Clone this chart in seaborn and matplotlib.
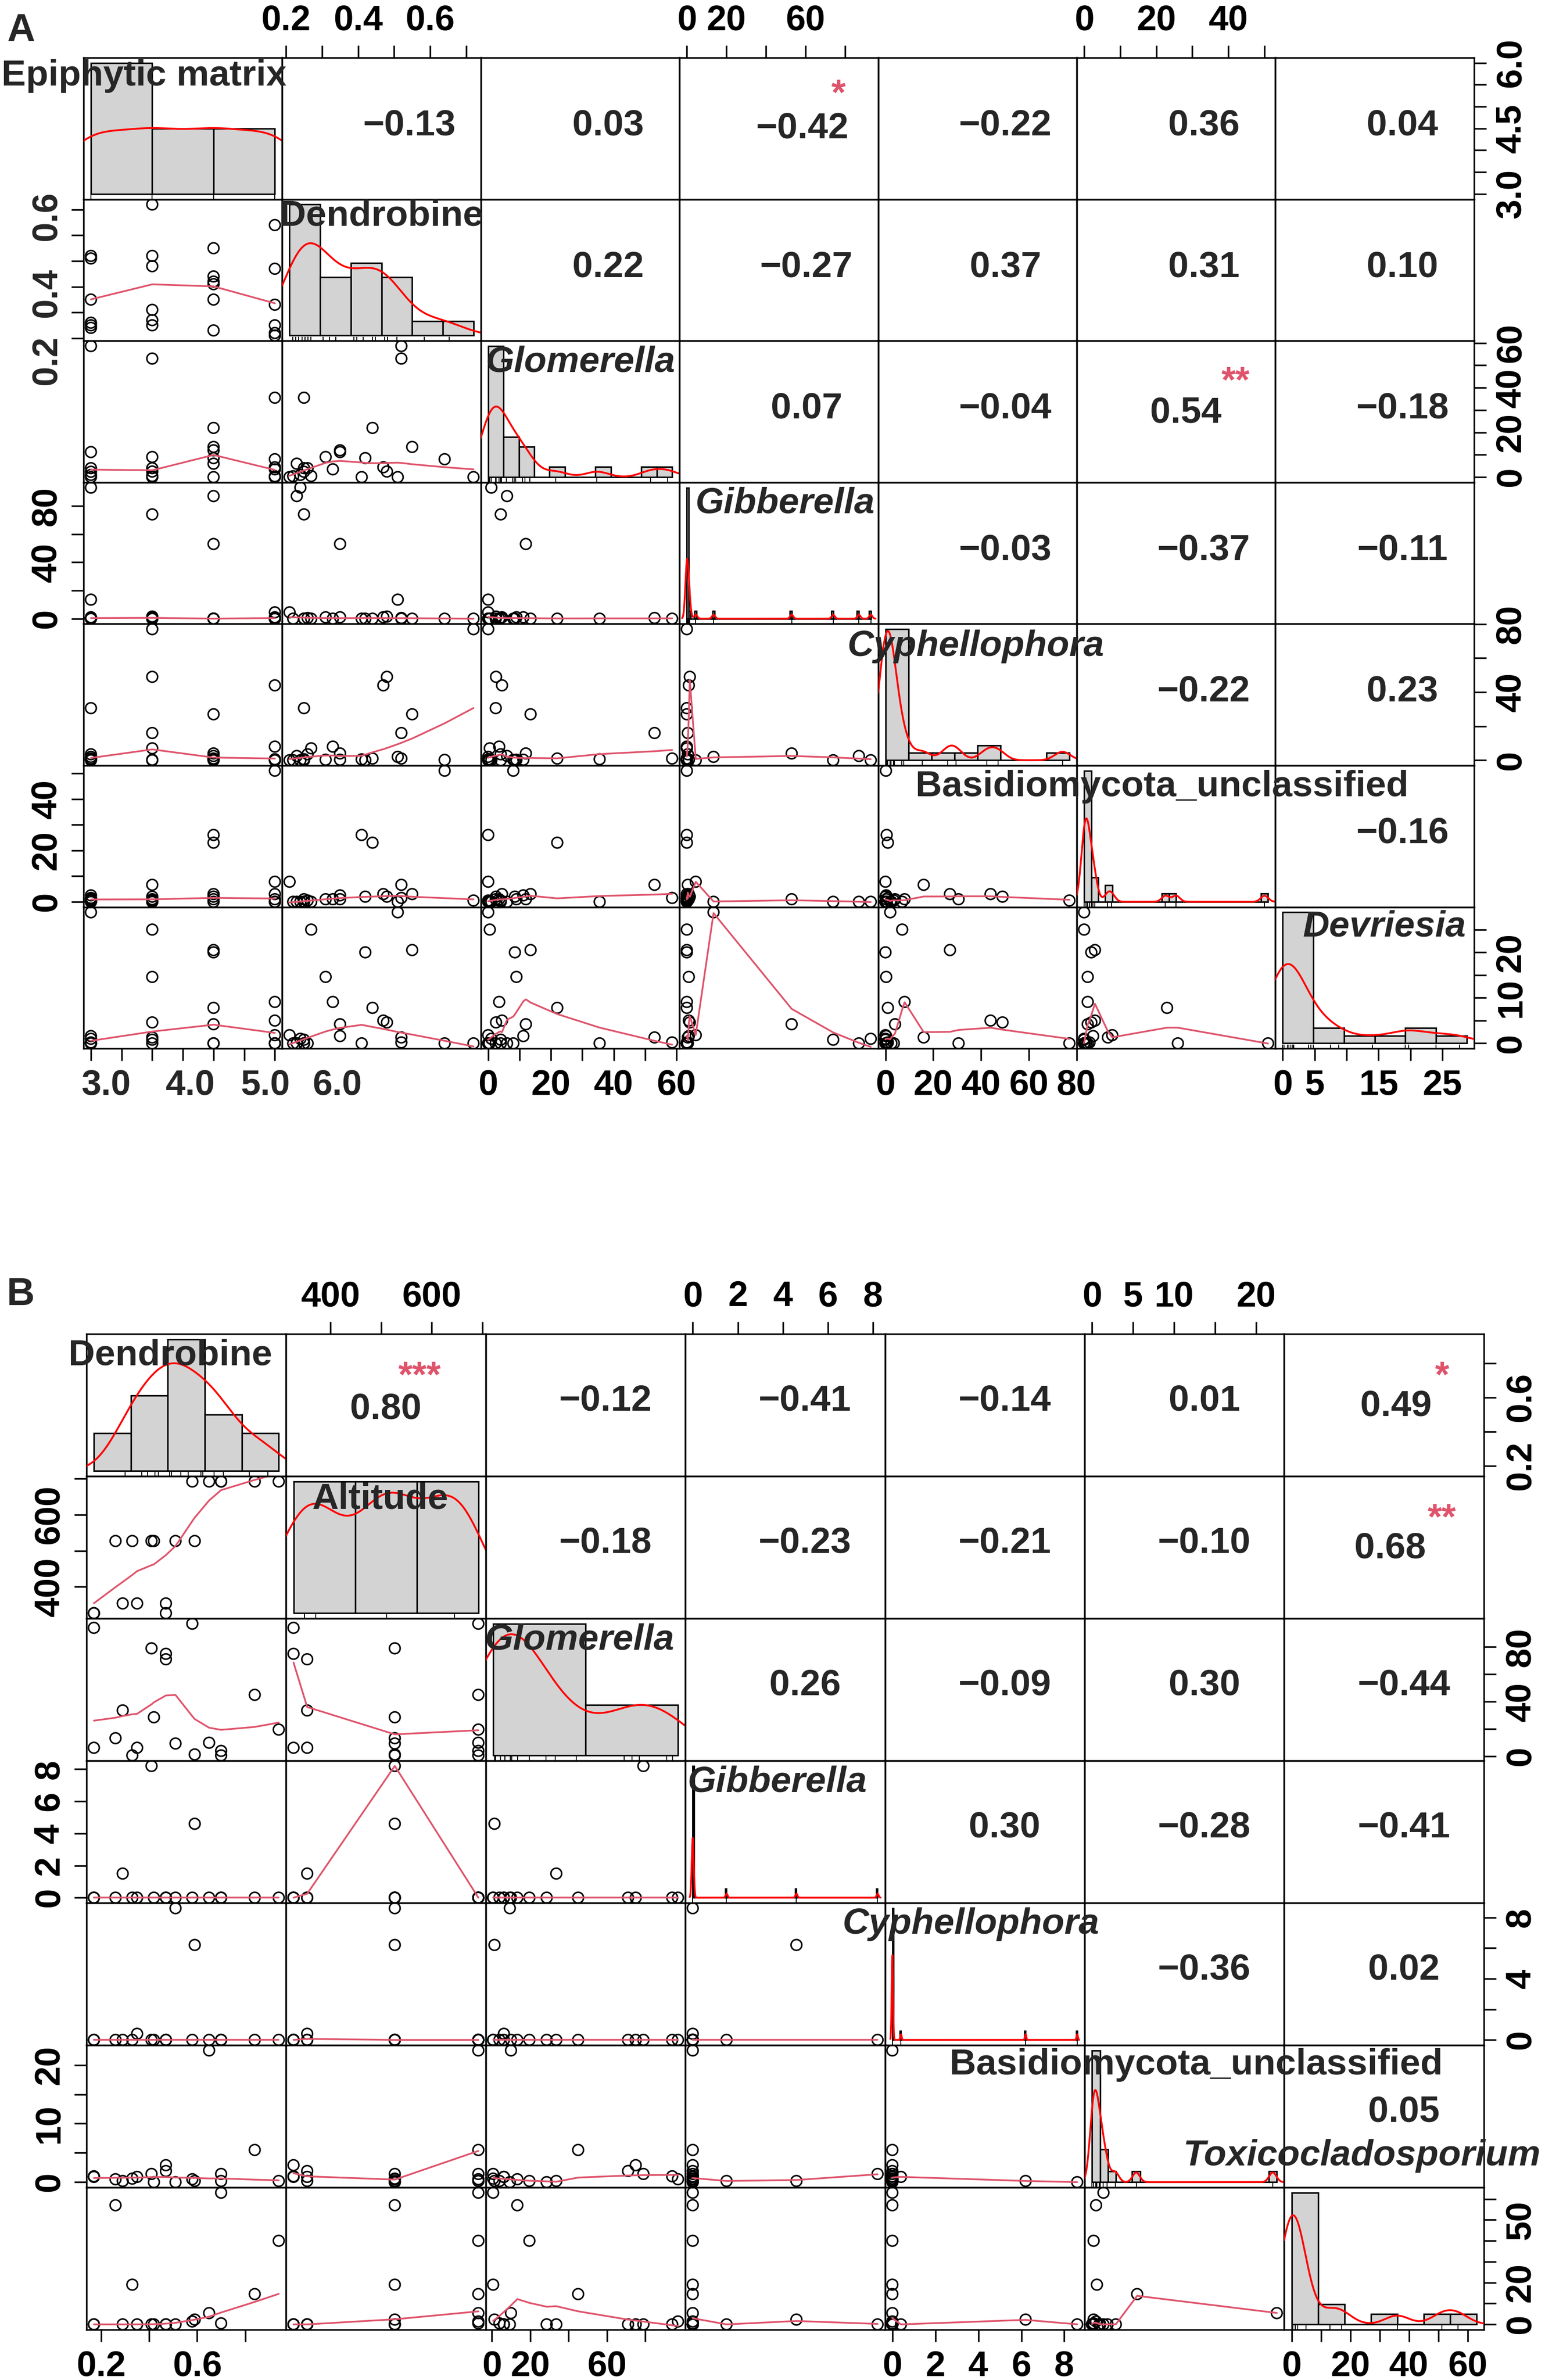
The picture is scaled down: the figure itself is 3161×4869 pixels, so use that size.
import numpy as np
import matplotlib
matplotlib.use("Agg")
import matplotlib.pyplot as plt
import matplotlib.transforms as mtransforms
import seaborn as sns

sns.set_style("white")
plt.rcParams["font.family"] = ["Liberation Sans", "DejaVu Sans"]
plt.rcParams["font.weight"] = "bold"

W, H = 3162, 4869
SMOOTH = "#DF536B"
HISTFILL = "#D3D3D3"

# ---------------- panel A data (24 samples) ----------------
a_names = ["Epiphytic matrix", "Dendrobine", "Glomerella", "Gibberella",
           "Cyphellophora", "Basidiomycota_unclassified", "Devriesia"]
a_italic = [False, False, True, True, True, False, True]

a_matrix = [3, 3, 3, 3, 3, 3, 4, 4, 4, 4, 4, 4, 5, 5, 5, 5, 5, 5, 6, 6, 6, 6, 6, 6]
a_dendrobine = [0.52, 0.51, 0.35, 0.26, 0.25, 0.24, 0.72, 0.52, 0.48, 0.31, 0.27, 0.25,
                0.55, 0.44, 0.42, 0.41, 0.35, 0.23, 0.64, 0.47, 0.33, 0.25, 0.22, 0.21]
a_glomerella = [58.6, 0, 11.2, 4, 2.4, 1, 0, 53, 2.5, 9, 0.5, 4,
                13.5, 22, 8.5, 0, 12, 6, 8, 4.4, 3.5, 35.5, 0.4, 0]
a_gibberella = [0, 13.5, 1, 0.5, 0, 93, 0, 0.5, 1.5, 1, 0, 74,
                0, 0, 0, 0, 53, 87, 0, 1, 0, 0, 0, 4.5]
a_cyphellophora = [1, 2, 0.3, 3.5, 30.6, 0, 77, 16, 49, 0.3, 7, 0,
                   27, 1, 0, 0.5, 4, 2.5, 0.2, 44, 8, 0.6, 0, 0]
a_basidiomycota = [1.5, 0, 2.5, 0.5, 1, 0, 0.5, 6.6, 2, 1, 0, 0,
                   3, 23, 2, 26, 1, 0, 51, 3, 1, 0, 0, 7.8]
a_devriesia = [0.2, 28.8, 1.6, 0, 0, 1, 0, 1.3, 4.6, 14.6, 25, 0.8,
               20.5, 7.8, 20, 0, 4.2, 0, 0, 5, 9.1, 0, 0, 1.8]

a_ticks = [[3.0, 3.5, 4.0, 4.5, 5.0, 5.5, 6.0], [0.2, 0.3, 0.4, 0.5, 0.6, 0.7],
           [0, 10, 20, 30, 40, 50, 60], [0, 20, 40, 60, 80], [0, 20, 40, 60, 80],
           [0, 10, 20, 30, 40, 50], [0, 5, 10, 15, 20, 25]]
a_hlabels = [[3, 4, 5, 6], [0.2, 0.4, 0.6], [0, 20, 40, 60], [0, 20, 60],
             [0, 20, 40, 60, 80], [0, 20, 40], [0, 5, 15, 25]]
a_vlabels = [[3, 4.5, 6], [0.2, 0.4, 0.6], [0, 20, 40, 60], [0, 40, 80],
             [0, 40, 80], [0, 20, 40], [0, 10, 20]]
# where the reference prints some labels (spread wider than their ticks)
a_hlabel_at = [[3.25, 4.62, 5.85, 7.02], None, None, None, None, None, None]
a_vlabel_at = [None, [0.113, 0.375, 0.674], None, None, None, None, None]
a_fmt = ["{:.1f}", "{:.1f}", "{:g}", "{:g}", "{:g}", "{:g}", "{:g}"]
a_bin_start = [3, 0.2, 0, 0, 0, 0, 0]
a_bin_width = [1, 0.1, 5, 1, 10, 2, 5]
a_kde_bw = [None] * 7

a_corr = [[-0.13, 0.03, -0.42, -0.22, 0.36, 0.04],
          [0.22, -0.27, 0.37, 0.31, 0.10],
          [0.07, -0.04, 0.54, -0.18],
          [-0.03, -0.37, -0.11],
          [-0.22, 0.23],
          [-0.16]]
a_star_cells = [(0, 3), (2, 5)]
a_star_marks = ["*", "**"]

# ---------------- panel B data (18 samples) ----------------
b_names = ["Dendrobine", "Altitude", "Glomerella", "Gibberella",
           "Cyphellophora", "Basidiomycota_unclassified", "Toxicocladosporium"]
b_italic = [False, False, True, True, True, False, True]

b_dendrobine = [0.17, 0.17, 0.47, 0.47, 0.29, 0.35, 0.41, 0.42, 0.26,
                0.51, 0.59, 0.33, 0.58, 0.84, 0.94, 0.65, 0.70, 0.70]
b_altitude = [327, 327, 327, 354, 354, 354, 527, 527, 527,
              527, 527, 527, 692, 692, 692, 692, 692, 692]
b_glomerella = [94, 6.3, 75, 71, 33.6, 6.3, 79, 28.6, 13.3,
                9.4, 1.4, 0.7, 97, 45, 19.6, 10, 0.7, 4]
b_gibberella = [0, 0, 0, 0, 1.5, 0, 8.2, 0, 0,
                0, 4.6, 0, 0, 0, 0, 0, 0, 0]
b_cyphellophora = [0, 0, 0, 0, 0, 0.4, 0, 0, 0,
                   8.6, 6.2, 0, 0, 0, 0, 0, 0, 0]
b_basidiomycota = [1.0, 0.9, 2.9, 1.9, 0.2, 0.9, 1.4, 0, 0.5,
                   0, 0.2, 0.6, 0.5, 5.5, 0.2, 22.5, 1.4, 0.2]
b_toxicocladosporium = [0, 0, 0, 0, 0, 0, 0, 0, 57,
                        0, 2.3, 19, 1.4, 14.5, 40, 5.4, 63, 0.5]

b_ticks = [[0.2, 0.4, 0.6, 0.8], [400, 500, 600, 700], [0, 20, 40, 60, 80],
           [0, 2, 4, 6, 8], [0, 2, 4, 6, 8], [0, 5, 10, 15, 20],
           [0, 10, 20, 30, 40, 50, 60]]
b_hlabels = [[0.2, 0.6], [400, 600], [0, 20, 60], [0, 2, 4, 6, 8],
             [0, 2, 4, 6, 8], [0, 5, 10, 20], [0, 20, 40, 60]]
b_vlabels = [[0.2, 0.6], [400, 600], [0, 40, 80], [0, 2, 4, 6, 8],
             [0, 4, 8], [0, 10, 20], [0, 20, 50]]
b_hlabel_at = [None] * 7
b_vlabel_at = [None] * 7
b_fmt = ["{:.1f}", "{:g}", "{:g}", "{:g}", "{:g}", "{:g}", "{:g}"]
b_bin_start = [0, 300, 0, 0, 0, 0, 0]
b_bin_width = [0.2, 150, 50, 0.05, 0.05, 1, 10]
b_kde_bw = [None, None, None, 0.044, 0.031, None, None]

b_corr = [[0.80, -0.12, -0.41, -0.14, 0.01, 0.49],
          [-0.18, -0.23, -0.21, -0.10, 0.68],
          [0.26, -0.09, 0.30, -0.44],
          [0.30, -0.28, -0.41],
          [-0.36, 0.02],
          [0.05]]
b_star_cells = [(0, 1), (0, 6), (1, 6)]
b_star_marks = ["***", "*", "**"]

TICK_LEN, TICK_PAD, TICK_SIZE = 6, 4, 17.5


def lowess(x, y, f=2 / 3, iters=3):
    # R's lowess (clowess): tied x values share the fit of the first one
    x = np.asarray(x, float)
    y = np.asarray(y, float)
    o = np.argsort(x, kind="stable")
    x, y = x[o], y[o]
    n = len(x)
    ns = max(min(int(f * n + 1e-7), n), 2)
    rng = x[-1] - x[0]
    rw = np.ones(n)
    fit = np.zeros(n)
    for it in range(iters + 1):
        for i in range(n):
            if i > 0 and x[i] == x[i - 1]:
                fit[i] = fit[i - 1]
                continue
            d = np.abs(x - x[i])
            h = np.sort(d)[ns - 1]
            w = np.zeros(n)
            if h > 0:
                inside = d <= 0.999 * h
                w[inside] = (1 - (d[inside] / h) ** 3) ** 3
                w[d <= 0.001 * h] = 1
            else:
                w[d <= 0] = 1
            w = w * rw
            a = w.sum()
            if a <= 0:
                fit[i] = y[i]
                continue
            w = w / a
            if h > 0:
                xm = (w * x).sum()
                c = (w * (x - xm) ** 2).sum()
                if np.sqrt(c) > 0.001 * rng:
                    b = (x[i] - xm) / c
                    w = w * (b * (x - xm) + 1)
            fit[i] = (w * y).sum()
        if it == iters:
            break
        res = np.abs(y - fit)
        cmad = 6 * np.median(res)
        if cmad < 1e-7 * np.mean(np.abs(y)):
            break
        rw = np.where(res <= 0.001 * cmad, 1.0,
                      np.where(res <= 0.999 * cmad, (1 - (res / cmad) ** 2) ** 2, 0.0))
    return x, fit


def r_density(x, bw=None):
    x = np.asarray(x, float)
    n = len(x)
    if bw is None:
        sd = x.std(ddof=1)
        q75, q25 = np.percentile(x, [75, 25])
        lo = min(sd, (q75 - q25) / 1.34)
        if lo <= 0:
            lo = sd if sd > 0 else (abs(x[0]) if x[0] != 0 else 1.0)
        bw = 0.9 * lo * n ** -0.2
    grid = np.linspace(x.min() - 3 * bw, x.max() + 3 * bw, 1024)
    dens = np.exp(-0.5 * ((grid[:, None] - x[None, :]) / bw) ** 2).sum(1) / (n * bw * np.sqrt(2 * np.pi))
    return grid, dens


def hist_counts(x, start, width):
    # right-closed bins like R's hist()
    k = int(np.ceil((x.max() - start) / width - 1e-9))
    edges = start + width * np.arange(k + 1)
    idx = np.searchsorted(edges, x - 1e-9 * width, side="left") - 1
    idx = np.clip(idx, 0, k - 1)
    counts = np.bincount(idx, minlength=k)
    return edges, counts


def fmt_corr(r):
    return "{:.2f}".format(r).replace("-", "\u2212")


def set_side(ax, side, ticks, labels, fmt, label_at, cell_w, cell_h):
    horiz = side in ("top", "bottom")
    if label_at is None:
        texts = [fmt.format(t) if any(abs(t - l) < 1e-9 for l in labels) else "" for t in ticks]
    else:
        texts = [""] * len(ticks)
    if horiz:
        ax.set_xticks(ticks)
        ax.set_xticklabels(texts)
        ax.tick_params(axis="x", **{side: True, "label" + side: True})
    else:
        ax.set_yticks(ticks)
        ax.set_yticklabels(texts, rotation=90, va="center")
        ax.tick_params(axis="y", **{side: True, "label" + side: True})
    if label_at is None:
        return
    off_px = (TICK_LEN + TICK_PAD) * 300 / 72
    for val, pos in zip(labels, label_at):
        s = fmt.format(val)
        if side == "bottom":
            tr = mtransforms.blended_transform_factory(ax.transData, ax.transAxes)
            ax.text(pos, -off_px / cell_h, s, transform=tr, ha="center", va="top",
                    fontsize=TICK_SIZE, clip_on=False)
        elif side == "top":
            tr = mtransforms.blended_transform_factory(ax.transData, ax.transAxes)
            ax.text(pos, 1 + off_px / cell_h, s, transform=tr, ha="center", va="bottom",
                    fontsize=TICK_SIZE, clip_on=False)
        elif side == "left":
            tr = mtransforms.blended_transform_factory(ax.transAxes, ax.transData)
            ax.text(-off_px / cell_w, pos, s, transform=tr, ha="right", va="center",
                    rotation=90, fontsize=TICK_SIZE, clip_on=False)
        else:
            tr = mtransforms.blended_transform_factory(ax.transAxes, ax.transData)
            ax.text(1 + off_px / cell_w, pos, s, transform=tr, ha="left", va="center",
                    rotation=90, fontsize=TICK_SIZE, clip_on=False)


def draw_panel(fig, tag, variables, names, italic, ticks, hlabels, vlabels, hlabel_at,
               vlabel_at, fmts, bin_start, bin_width, kde_bw, corr, star_cells, star_marks,
               geom, label_pos, corr_pos, corr_over, star_pos):
    data = [np.asarray(v, float) for v in variables]
    n = len(data)
    lims = []
    for v in data:
        r = v.max() - v.min()
        lims.append((v.min() - 0.04 * r, v.max() + 0.04 * r))
    x0, y0, cw, rh = geom
    for i in range(n):
        for j in range(n):
            rect = [(x0 + j * cw) / W, 1 - (y0 + (i + 1) * rh) / H, cw / W, rh / H]
            ax = fig.add_axes(rect, label=f"{tag}{i}_{j}")
            ax.set_facecolor("none")
            if i > j:
                sns.scatterplot(x=data[j], y=data[i], ax=ax, s=28, marker="o",
                                facecolor="none", edgecolor="black", linewidth=0.75)
                lx, ly = lowess(data[j], data[i])
                sns.lineplot(x=lx, y=ly, ax=ax, color=SMOOTH, linewidth=0.85,
                             sort=False, estimator=None)
            elif i == j:
                hax = fig.add_axes(rect, label=f"{tag}h{i}")
                hax.set_facecolor("none")
                hax.set_axis_off()
                edges, counts = hist_counts(data[i], bin_start[i], bin_width[i])
                dens = counts / (len(data[i]) * bin_width[i])
                m = dens.max()
                hax.bar(edges[:-1], dens, width=bin_width[i], align="edge",
                        color=HISTFILL, edgecolor="black", linewidth=0.75)
                gx, gy = r_density(data[i], kde_bw[i])
                hax.plot(gx, gy, color="red", linewidth=0.9)
                span = edges[-1] - edges[0]
                hax.set_xlim(edges[0] - 0.04 * span, edges[-1] + 0.04 * span)
                ylo, yhi = -0.04 * m, 1.04 * m
                hax.set_ylim(ylo, yhi)
                hax.vlines(data[i], ylo, ylo + 0.03 * (yhi - ylo), color="black", linewidth=0.45)
                u, v = label_pos[i]
                fig.text((x0 + (j + u) * cw) / W, 1 - (y0 + (i + 1 - v) * rh) / H, names[i],
                         ha="center", va="center", fontsize=18, fontweight="bold",
                         fontstyle="italic" if italic[i] else "normal", zorder=6)
            else:
                u, v = corr_over.get((i, j), corr_pos)
                ax.text(u, v, fmt_corr(corr[i][j - i - 1]), transform=ax.transAxes,
                        ha="center", va="center", fontsize=18, fontweight="bold")
            for (si, sj), mark in zip(star_cells, star_marks):
                if (si, sj) == (i, j):
                    su, sv = star_pos.get((i, j), (0.8, 0.79))
                    ax.text(su, sv - 0.15, mark, transform=ax.transAxes, ha="center",
                            va="baseline", fontsize=18, fontweight="bold", color=SMOOTH)
            ax.set_xlim(lims[j])
            ax.set_ylim(lims[i])
            ax.set_xlabel("")
            ax.set_ylabel("")
            for s in ax.spines.values():
                s.set_visible(True)
                s.set_color("black")
                s.set_linewidth(0.8)
            ax.tick_params(axis="both", which="both", top=False, bottom=False, left=False,
                           right=False, labeltop=False, labelbottom=False, labelleft=False,
                           labelright=False, direction="out", length=TICK_LEN, width=0.8,
                           pad=TICK_PAD, labelsize=TICK_SIZE, colors="black")
            if i == 0 and j % 2 == 1:
                set_side(ax, "top", ticks[j], hlabels[j], fmts[j], hlabel_at[j], cw, rh)
            if i == n - 1 and j % 2 == 0:
                set_side(ax, "bottom", ticks[j], hlabels[j], fmts[j], hlabel_at[j], cw, rh)
            if j == 0 and i % 2 == 1:
                set_side(ax, "left", ticks[i], vlabels[i], fmts[i], vlabel_at[i], cw, rh)
            if j == n - 1 and i % 2 == 0:
                set_side(ax, "right", ticks[i], vlabels[i], fmts[i], vlabel_at[i], cw, rh)


fig = plt.figure(figsize=(W / 300, H / 300), dpi=300)
fig.patch.set_facecolor("white")

draw_panel(fig, "A",
           [a_matrix, a_dendrobine, a_glomerella, a_gibberella, a_cyphellophora,
            a_basidiomycota, a_devriesia],
           a_names, a_italic, a_ticks, a_hlabels, a_vlabels, a_hlabel_at, a_vlabel_at,
           a_fmt, a_bin_start, a_bin_width, a_kde_bw, a_corr, a_star_cells, a_star_marks,
           geom=(171, 118, 406.4, 289.6),
           label_pos=[(0.305, 0.87), (0.5, 0.88), (0.5, 0.85), (0.53, 0.85),
                      (0.49, 0.84), (0.43, 0.85), (0.55, 0.86)],
           corr_pos=(0.64, 0.52), corr_over={(2, 5): (0.55, 0.49), (0, 3): (0.62, 0.5)},
           star_pos={(0, 3): (0.8, 0.82)})

draw_panel(fig, "B",
           [b_dendrobine, b_altitude, b_glomerella, b_gibberella, b_cyphellophora,
            b_basidiomycota, b_toxicocladosporium],
           b_names, b_italic, b_ticks, b_hlabels, b_vlabels, b_hlabel_at, b_vlabel_at,
           b_fmt, b_bin_start, b_bin_width, b_kde_bw, b_corr, b_star_cells, b_star_marks,
           geom=(177, 2729, 408.4, 291),
           label_pos=[(0.42, 0.85), (0.47, 0.84), (0.47, 0.85), (0.46, 0.85),
                      (0.43, 0.85), (0.56, 0.86), (0.39, 1.22)],
           corr_pos=(0.6, 0.53),
           corr_over={(0, 1): (0.5, 0.47), (0, 6): (0.56, 0.49), (1, 6): (0.53, 0.49)},
           star_pos={(0, 1): (0.67, 0.78), (0, 6): (0.79, 0.78), (1, 6): (0.79, 0.78)})

fig.text(14 / W, 1 - 26 / H, "A", ha="left", va="top", fontsize=19, fontweight="bold")
fig.text(14 / W, 1 - 2612 / H, "B", ha="left", va="top", fontsize=19, fontweight="bold")

fig.savefig("out.png", dpi=300, facecolor="white")
